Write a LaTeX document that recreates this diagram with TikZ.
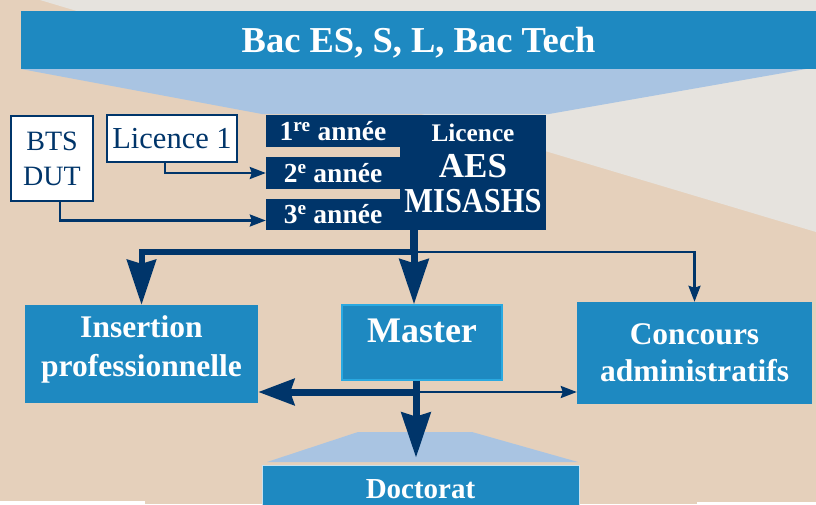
\documentclass[tikz,border=0pt]{standalone}
\usepackage{fontspec}
\setmainfont{Liberation Serif}
\usepackage{graphicx}
\usetikzlibrary{arrows.meta}
\definecolor{bgbeige}{HTML}{E5D0BB}
\definecolor{bggray}{HTML}{E6E3DE}
\definecolor{bacblue}{HTML}{1E89C1}
\definecolor{paleblue}{HTML}{A9C4E2}
\definecolor{navy}{HTML}{00356A}
\definecolor{mastercyan}{HTML}{2AA9E1}
\newcommand\fs[2]{\fontsize{#1}{#2}\selectfont}

\begin{document}
\begin{tikzpicture}[x=1pt,y=-1pt,
  bluebox/.style={rectangle,fill=bacblue,text=white,align=center,inner sep=0pt},
  whitebox/.style={rectangle,draw=navy,line width=1.5pt,fill=white,text=navy,align=center,inner sep=0pt},
  yearbar/.style={rectangle,fill=navy,text=white,font=\bfseries\fs{27.5}{30},minimum width=134pt,minimum height=32pt,inner sep=0pt},
  thinarrow/.style={navy,line width=2.5pt,-{Stealth[length=16pt,width=12pt,inset=2pt]}},
  bigarrow/.style={navy,line width=7pt,-{Stealth[length=45pt,width=29pt,inset=4pt]}}]
\useasboundingbox (0,0) rectangle (816,504);
\clip (0,0) rectangle (816,504);
% background
\fill[bgbeige] (0,0) rectangle (816,504);
\fill[bggray] (40,0) -- (816,0) -- (816,232) -- cycle;
\fill[white] (0,501) rectangle (145,504); \fill[white] (697,502) rectangle (816,504);
\fill[paleblue] (21,69) -- (806,69) -- (549,114) -- (262,114) -- cycle;
\fill[paleblue] (358,432) -- (472,432) -- (578,462) -- (267,462) -- cycle;
% boxes
\node[bluebox,minimum width=795pt,minimum height=58pt,font=\bfseries\fs{36.5}{40},text depth=0pt] (bac) at (418.5,40) {Bac ES, S, L, Bac Tech};
\node[whitebox,minimum width=82pt,minimum height=85pt,font=\fs{28}{35}] (bts) at (52,158.5) {BTS\\DUT};
\node[whitebox,minimum width=130pt,minimum height=47pt,font=\fs{30.5}{34}] (lic1) at (172,138.5) {Licence 1};
\node[yearbar] (y1) at (333,131) {1\textsuperscript{re} année};
\node[yearbar] (y2) at (333,173) {2\textsuperscript{e} année};
\node[yearbar,minimum height=31pt] (y3) at (333,214.5) {3\textsuperscript{e} année};
\node[rectangle,fill=navy,text=white,align=center,inner sep=0pt,minimum width=146pt,minimum height=115pt,font=\bfseries\fs{35}{35.5},text depth=8pt] (lic) at (473,172.5)
  {{\fs{25.3}{30}Licence}\\AES\\\scalebox{0.87}[1]{MISASHS}};
\node[bluebox,minimum width=233pt,minimum height=98pt,font=\bfseries\fs{31.5}{39},text depth=15pt] (ins) at (141.5,354) {Insertion\\professionnelle};
\node[bluebox,draw=mastercyan,line width=1.5pt,minimum width=160pt,minimum height=75pt,font=\bfseries\fs{36}{40},text height=26pt,text depth=26pt] (master) at (422,342.5) {Master};
\node[bluebox,minimum width=235pt,minimum height=102pt,font=\bfseries\fs{31.5}{37}] (conc) at (694.5,353) {Concours\\administratifs};
\node[bluebox,draw=white!75!bacblue,line width=0.8pt,minimum width=317pt,minimum height=60pt,font=\bfseries\fs{29}{32},text height=21pt,text depth=15pt] (doct) at (420.5,495) {Doctorat};
% connectors
\draw[thinarrow] ([xshift=-7pt]lic1.south) |- (y2.west);
\draw[thinarrow] ([xshift=8pt]bts.south) |- ([yshift=-6pt]y3.west);
\coordinate (split) at (414,252);
\draw[navy,line width=8pt] (lic.south -| split) -- (split);
\draw[bigarrow,line width=6pt] (split) -| (ins.north);
\draw[bigarrow] (split) -- (master.north -| split);
\draw[thinarrow] (split) -| (conc.north);
\coordinate (hub) at (416,392); \coordinate (doctip) at ([yshift=7pt]doct.north);
\draw[bigarrow] (master.south -| hub) -- (hub |- doctip);
\draw[bigarrow,-{Stealth[length=36pt,width=26pt,inset=4pt]}] (hub) -- (ins.east |- hub);
\draw[thinarrow] (hub) -- (conc.west |- hub);
\end{tikzpicture}
\end{document}
